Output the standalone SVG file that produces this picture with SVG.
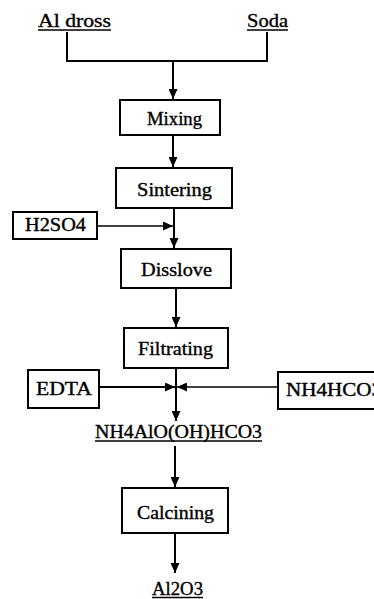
<svg xmlns="http://www.w3.org/2000/svg" width="374" height="599" viewBox="0 0 374 599">
<style>
.box{fill:#fff;stroke:#000;stroke-width:2}
.t{font-family:'Liberation Serif','DejaVu Serif',serif;font-size:18px;fill:#000;stroke:#000;stroke-width:0.35}
.ln{stroke:#000;stroke-width:2;fill:none}
.ul{stroke:#000;stroke-width:1.5}
</style>
<defs>
<marker id="ah" markerUnits="userSpaceOnUse" markerWidth="10" markerHeight="9" refX="10" refY="4.5" orient="auto">
<path d="M0,0 L10,4.5 L0,9 z" fill="#000"/>
</marker>
</defs>
<rect width="374" height="599" fill="#fff"/>
<g id="connectors">
<polyline class="ln" points="67,32 67,61 267,61 267,32"/>
<line class="ln" x1="173" y1="61" x2="173" y2="99" marker-end="url(#ah)"/>
<line class="ln" x1="173" y1="135" x2="173" y2="167" marker-end="url(#ah)"/>
<line class="ln" x1="174" y1="208" x2="174" y2="248" marker-end="url(#ah)"/>
<line class="ln" x1="97" y1="226" x2="173" y2="226" marker-end="url(#ah)" style="stroke-width:1.5"/>
<line class="ln" x1="176" y1="288" x2="176" y2="327" marker-end="url(#ah)"/>
<line class="ln" x1="176" y1="368" x2="176" y2="421" marker-end="url(#ah)"/>
<line class="ln" x1="99" y1="387" x2="175" y2="387" marker-end="url(#ah)"/>
<line class="ln" x1="278" y1="387" x2="177" y2="387" marker-end="url(#ah)" style="stroke-width:1.5"/>
<line class="ln" x1="175" y1="446" x2="175" y2="487" marker-end="url(#ah)"/>
<line class="ln" x1="175" y1="533" x2="175" y2="573" marker-end="url(#ah)"/>
</g>
<g id="al-dross">
<text class="t" font-family="Liberation Serif, serif" x="38" y="27" textLength="73" lengthAdjust="spacingAndGlyphs">Al dross</text>
<line class="ul" x1="38" y1="30" x2="111" y2="30"/>
</g>
<g id="soda">
<text class="t" x="247" y="27" textLength="41" lengthAdjust="spacingAndGlyphs">Soda</text>
<line class="ul" x1="247" y1="30" x2="288" y2="30"/>
</g>
<g id="mixing">
<rect class="box" x="120" y="100" width="100" height="35"/>
<text class="t" x="147" y="125" textLength="55" lengthAdjust="spacingAndGlyphs">Mixing</text>
</g>
<g id="sintering">
<rect class="box" x="116" y="168" width="116" height="40"/>
<text class="t" x="137" y="196" textLength="75" lengthAdjust="spacingAndGlyphs">Sintering</text>
</g>
<g id="h2so4">
<rect class="box" x="13" y="212" width="84" height="27"/>
<text class="t" x="25" y="231" textLength="61" lengthAdjust="spacingAndGlyphs">H2SO4</text>
</g>
<g id="disslove">
<rect class="box" x="121" y="249" width="110" height="39"/>
<text class="t" x="141" y="276" textLength="71" lengthAdjust="spacingAndGlyphs">Disslove</text>
</g>
<g id="filtrating">
<rect class="box" x="124" y="328" width="104" height="40"/>
<text class="t" x="138" y="355" textLength="75" lengthAdjust="spacingAndGlyphs">Filtrating</text>
</g>
<g id="edta">
<rect class="box" x="28" y="370" width="71" height="38"/>
<text class="t" x="36" y="395" textLength="56" lengthAdjust="spacingAndGlyphs">EDTA</text>
</g>
<g id="nh4hco3">
<rect class="box" x="278" y="372" width="110" height="37"/>
<text class="t" x="286" y="396" textLength="96" lengthAdjust="spacingAndGlyphs">NH4HCO3</text>
</g>
<g id="nh4alo-oh-hco3">
<text class="t" x="95" y="438" textLength="167" lengthAdjust="spacingAndGlyphs">NH4AlO(OH)HCO3</text>
<line class="ul" x1="95" y1="441" x2="262" y2="441"/>
</g>
<g id="calcining">
<rect class="box" x="122" y="488" width="106" height="45"/>
<text class="t" x="137" y="519" textLength="77" lengthAdjust="spacingAndGlyphs">Calcining</text>
</g>
<g id="al2o3">
<text class="t" x="152" y="595" textLength="51" lengthAdjust="spacingAndGlyphs">Al2O3</text>
<line class="ul" x1="152" y1="597.5" x2="203" y2="597.5"/>
</g>
</svg>
